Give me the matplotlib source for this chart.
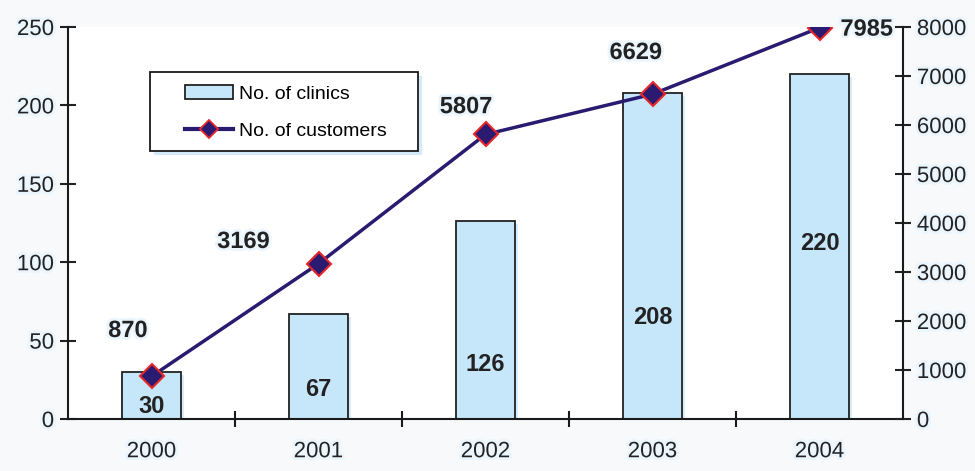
import matplotlib.pyplot as plt
import matplotlib.patheffects as pe
from matplotlib.patches import Patch, Rectangle
from matplotlib.lines import Line2D

plt.rcParams['font.family'] = ['Liberation Sans', 'DejaVu Sans']

years = ['2000', '2001', '2002', '2003', '2004']
clinics = [30, 67, 126, 208, 220]
customers = [870, 3169, 5807, 6629, 7985]

# where the number inside each bar sits (left-axis units)
clinic_label_y = [7.7, 19, 35, 64.5, 112]
# offsets (points) of the customer numbers from their markers
cust_offsets = [(-17, 33), (-54, 16), (-14, 20), (-12, 30), (34, -1)]

bar_col = '#c6e6f9'
line_col = '#2a1a70'
ink = '#222222'
halo = [pe.withStroke(linewidth=4, foreground='#eaf5fd')]
shadow = pe.SimplePatchShadow(offset=(2, -2), shadow_rgbFace='#c8e6f8', alpha=0.7)

fig = plt.figure(figsize=(9.75, 4.71), dpi=100)
fig.patch.set_facecolor('#f8f9fb')
ax = fig.add_axes([68/975, 52/471, 835/975, 392/471])
ax.set_facecolor('white')
ax2 = ax.twinx()

x = list(range(len(years)))
ax.bar(x, clinics, width=0.355, color=bar_col, edgecolor=ink, linewidth=1.3, zorder=2,
       path_effects=[shadow, pe.Normal()])
for xi, v, ly in zip(x, clinics, clinic_label_y):
    ax.text(xi, ly, str(v), ha='center', va='center', fontsize=17, fontweight='bold', color=ink, zorder=4)

ax2.plot(x, customers, color=line_col, lw=2.5, marker='D', markersize=12.5,
         markerfacecolor=line_col, markeredgecolor='#e8262a', markeredgewidth=1.5, zorder=3)
for xi, v, off in zip(x, customers, cust_offsets):
    ax2.annotate(str(v), (xi, v), xytext=off, textcoords='offset points',
                 ha='center', va='center', fontsize=17, fontweight='bold', color=ink,
                 path_effects=halo)

ax.set_xlim(-0.5, 4.5)
ax.set_ylim(0, 250)
ax2.set_ylim(0, 8000)
ax.set_yticks(range(0, 251, 50))
ax2.set_yticks(range(0, 8001, 1000))
ax.set_xticks(x)
ax.set_xticklabels(years)
ax.set_xticks([i + 0.5 for i in range(4)], minor=True)

for a in (ax, ax2):
    a.spines['top'].set_visible(False)
    for s in a.spines.values():
        s.set_linewidth(1.5)
        s.set_color('#1a1a1a')
ax.spines['right'].set_visible(False)
ax2.spines['left'].set_visible(False)
ax2.spines['bottom'].set_visible(False)

ax.tick_params(axis='y', direction='inout', length=12, width=1.5, labelsize=16, pad=4, colors=ink)
ax2.tick_params(axis='y', direction='inout', length=12, width=1.5, labelsize=16, pad=4, colors=ink)
ax.tick_params(axis='x', which='major', length=0, labelsize=16, pad=16, colors=ink)
ax.tick_params(axis='x', which='minor', direction='inout', length=12, width=1.5, color='#1a1a1a')
for lab in ax.get_xticklabels() + ax.get_yticklabels() + ax2.get_yticklabels():
    lab.set_path_effects(halo)

# legend box drawn separately so it can be wider than its contents
box = Rectangle((0.0982, 0.684), 0.321, 0.201, transform=ax.transAxes, facecolor='white',
                edgecolor='#1a1a1a', linewidth=1.3, zorder=5,
                path_effects=[pe.SimplePatchShadow(offset=(3, -3), shadow_rgbFace='#c8e6f8', alpha=0.8), pe.Normal()])
ax2.add_patch(box)
handles = [Patch(facecolor=bar_col, edgecolor=ink, linewidth=1.3),
           Line2D([], [], color=line_col, lw=3, marker='D', markersize=9,
                  markerfacecolor=line_col, markeredgecolor='#e8262a', markeredgewidth=1.3)]
leg = ax2.legend(handles, ['No. of clinics', 'No. of customers'], loc='upper left',
                 bbox_to_anchor=(0.1396, 0.851), fontsize=14, frameon=False, borderpad=0,
                 labelspacing=1.0, handlelength=2.5, handletextpad=0.3, borderaxespad=0)
leg.set_zorder(6)

fig.savefig('out.png', dpi=100, facecolor=fig.get_facecolor())
